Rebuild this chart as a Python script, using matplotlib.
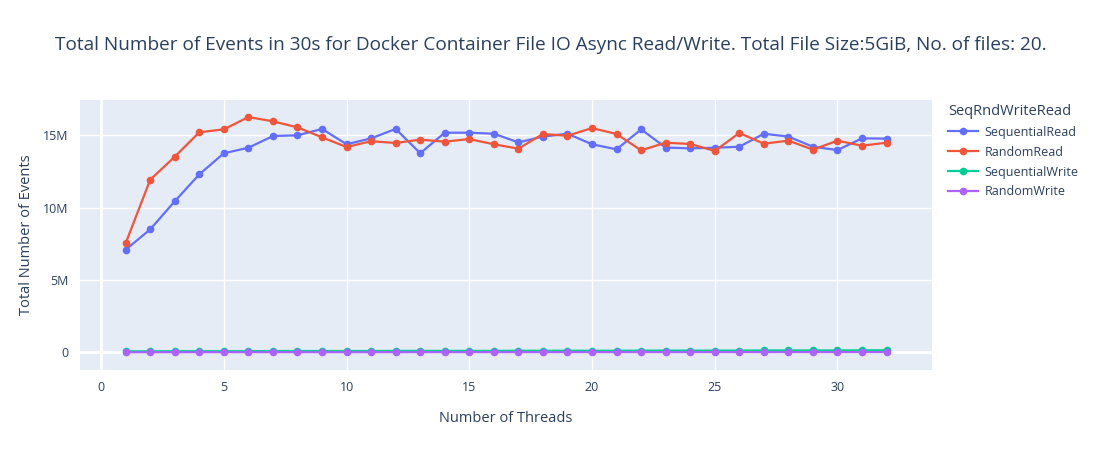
import matplotlib
matplotlib.use("Agg")
import matplotlib.pyplot as plt
from matplotlib.ticker import FuncFormatter

threads = list(range(1, 33))

seq_read = [7.10, 8.51, 10.45, 12.31, 13.77, 14.15, 14.96, 15.01, 15.45, 14.39,
            14.80, 15.45, 13.77, 15.19, 15.19, 15.12, 14.52, 14.92, 15.12, 14.39,
            14.04, 15.42, 14.16, 14.11, 14.15, 14.22, 15.12, 14.92, 14.22, 13.99,
            14.80, 14.78]
rnd_read = [7.55, 11.94, 13.53, 15.22, 15.42, 16.27, 15.98, 15.56, 14.87, 14.20,
            14.60, 14.48, 14.71, 14.57, 14.75, 14.39, 14.09, 15.10, 14.98, 15.51,
            15.10, 13.97, 14.50, 14.41, 13.93, 15.17, 14.43, 14.64, 14.02, 14.64,
            14.29, 14.50]
seq_write = [0.08, 0.08, 0.09, 0.09, 0.09, 0.09, 0.10, 0.10, 0.10, 0.10,
             0.10, 0.11, 0.11, 0.11, 0.11, 0.11, 0.12, 0.12, 0.12, 0.12,
             0.12, 0.13, 0.13, 0.13, 0.13, 0.13, 0.14, 0.14, 0.14, 0.14,
             0.15, 0.15]
rnd_write = [0.015, 0.015, 0.016, 0.016, 0.017, 0.017, 0.018, 0.018, 0.018, 0.019,
             0.019, 0.019, 0.020, 0.020, 0.020, 0.021, 0.021, 0.021, 0.022, 0.022,
             0.022, 0.023, 0.023, 0.023, 0.024, 0.024, 0.024, 0.025, 0.025, 0.025,
             0.026, 0.026]

series = [
    ("SequentialRead", [v * 1e6 for v in seq_read], "#636EFA"),
    ("RandomRead", [v * 1e6 for v in rnd_read], "#EF553B"),
    ("SequentialWrite", [v * 1e6 for v in seq_write], "#00CC96"),
    ("RandomWrite", [v * 1e6 for v in rnd_write], "#AB63FA"),
]

text_color = "#2a3f5f"
plt.rcParams["font.family"] = ["Open Sans", "DejaVu Sans"]

fig = plt.figure(figsize=(11.03, 4.5), dpi=100)
ax = fig.add_axes([80 / 1103, 80 / 450, 852 / 1103, 270 / 450])
ax.set_facecolor("#E5ECF6")

for name, vals, color in series:
    ax.plot(threads, vals, color=color, linewidth=1.6, marker="o", markersize=4.5,
            label=name, zorder=3)

ax.set_xlim(-0.86, 33.85)
ax.set_ylim(-1.21e6, 17.45e6)
ax.set_xticks([0, 5, 10, 15, 20, 25, 30])
ax.set_yticks([0, 5e6, 10e6, 15e6])
ax.yaxis.set_major_formatter(FuncFormatter(lambda v, p: "0" if v == 0 else f"{int(v / 1e6)}M"))

ax.grid(True, color="white", linewidth=1, zorder=0)
ax.set_axisbelow(True)
ax.axhline(0, color="white", linewidth=2, zorder=1)
ax.axvline(0, color="white", linewidth=2, zorder=1)
for s in ax.spines.values():
    s.set_visible(False)
ax.tick_params(length=0, labelsize=9, colors=text_color, pad=8)

ax.set_xlabel("Number of Threads", fontsize=10.5, color=text_color, labelpad=12)
ax.set_ylabel("Total Number of Events", fontsize=10.5, color=text_color, labelpad=7)

fig.text(55 / 1103, 1 - 45 / 450,
         "Total Number of Events in 30s for Docker Container File IO Async Read/Write. Total File Size:5GiB, No. of files: 20.",
         fontsize=13.7, color=text_color, va="center", ha="left")

leg = fig.legend(*ax.get_legend_handles_labels(), loc="upper left",
                 bbox_to_anchor=(948 / 1103, 1 - 104 / 450),
                 frameon=False, fontsize=9,
                 title="SeqRndWriteRead", title_fontsize=10.5, labelcolor=text_color,
                 handlelength=2.4, handletextpad=0.5, labelspacing=0.55,
                 borderaxespad=0, borderpad=0)
leg.get_title().set_color(text_color)
leg._legend_box.align = "left"

fig.savefig("out.png", dpi=100)
